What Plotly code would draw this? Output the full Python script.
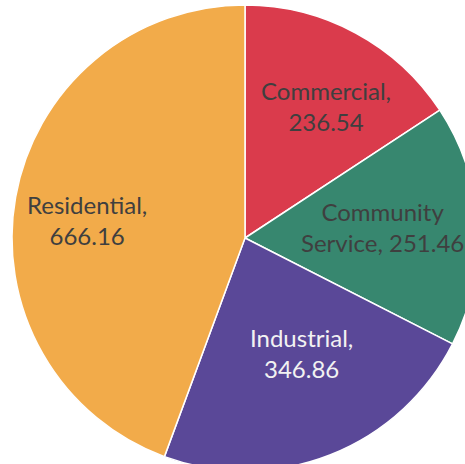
import plotly.graph_objects as go

categories = ["Commercial", "Community Service", "Industrial", "Residential"]
values = [236.54, 251.46, 346.86, 666.16]
label_lines = [["Commercial,", "236.54"], ["Community", "Service, 251.46"], ["Industrial,", "346.86"], ["Residential,", "666.16"]]
colors = ["#DA3B4C", "#37876F", "#5A4898", "#F2AB4A"]
text_colors = ["#3F3F3F", "#3F3F3F", "#F2F2F2", "#3F3F3F"]
# label centre positions in pixels (layout only)
label_px = [(326, 106), (382, 227), (301, 353), (87, 220)]

W, H = 490, 480

fig = go.Figure(go.Pie(
    labels=categories,
    values=values,
    textinfo="none",
    sort=False,
    direction="clockwise",
    rotation=0,
    marker=dict(colors=colors, line=dict(color="#FFFFFF", width=1.5)),
    domain=dict(x=[12 / W, 478 / W], y=[1 - 471 / H, 1 - 5 / H]),
    hoverinfo="label+value",
))

for lines, (px, py), tc in zip(label_lines, label_px, text_colors):
    fig.add_annotation(
        text="<br>".join(lines),
        x=px / W, y=1 - py / H, xref="paper", yref="paper",
        xanchor="center", yanchor="middle", showarrow=False,
        align="center",
        font=dict(family="Lato, Open Sans, sans-serif", size=24, color=tc),
    )

fig.update_layout(
    width=W, height=H,
    margin=dict(l=0, r=0, t=0, b=0),
    showlegend=False,
    paper_bgcolor="white",
    plot_bgcolor="white",
)

fig.write_html("out.html", post_script="document.body.style.overflow='hidden';document.body.style.margin='0';")
